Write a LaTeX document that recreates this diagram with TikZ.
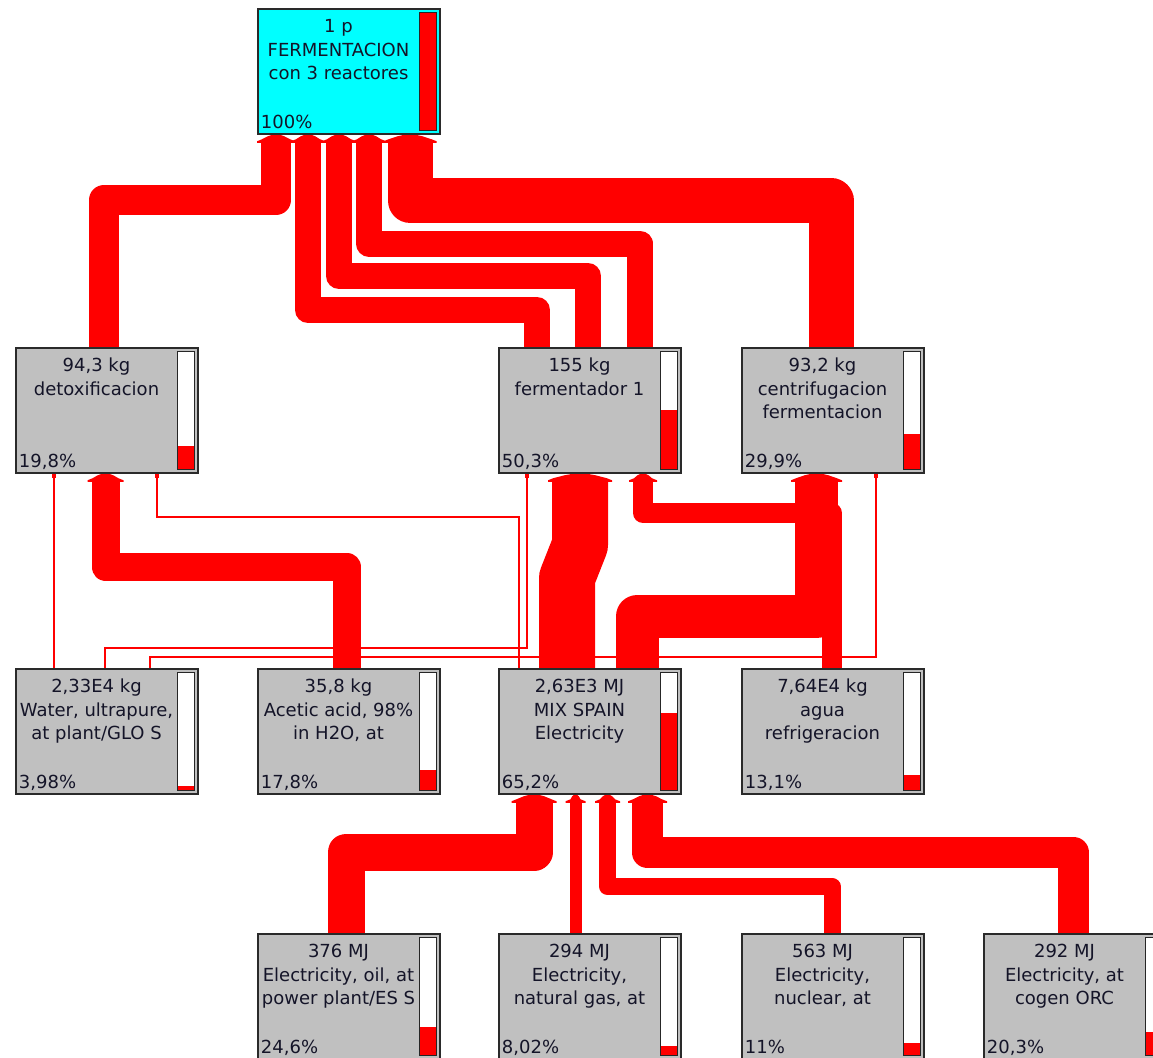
\documentclass[tikz,border=0pt]{standalone}
\usepackage{fontspec}
\setmainfont{DejaVu Sans}
\usetikzlibrary{calc,arrows.meta,backgrounds}
\definecolor{boxgray}{HTML}{C0C0C0}
\definecolor{boxcyan}{HTML}{00FFFF}
\definecolor{flow}{HTML}{FF0000}
\definecolor{edgec}{HTML}{2A2A2A}
\definecolor{txtc}{HTML}{141428}
\tikzset{
  procbox/.style={rectangle, draw=edgec, line width=1.6pt, minimum width=182.5pt,
    minimum height=125.5pt, inner sep=0pt, outer sep=0pt},
  barframe/.style={draw=black!85, line width=1.2pt},
  boxtext/.style={font=\fontsize{18}{20}\selectfont, text=txtc, inner sep=0pt},
  flowband/.style={draw=flow, line width=#1, line join=round, shorten >=7.5pt},
  thinflow/.style={draw=flow, line width=1.3pt, -{Rectangle[length=4.5pt,width=3.5pt]}}
}
% name, x, y, fill, fraction, percent text, lines
\newcommand\pbox[7]{%
  \node[procbox, fill=#4, anchor=north west] (#1) at (#2+0.75,#3+0.75) {};
  \coordinate (#1-bb) at ([xshift=-20.5pt,yshift=3.5pt]#1.south east);
  \coordinate (#1-bt) at ([xshift=-4pt,yshift=-3.5pt]#1.north east);
  \fill[white] (#1-bb) rectangle (#1-bt);
  \fill[flow] (#1-bb) rectangle ++(16.5,{-#5*118.5});
  \draw[barframe] (#1-bb) rectangle (#1-bt);
  \foreach \lbl [count=\i] in {#7}
    \node[boxtext, anchor=base] (#1-l\i) at ([xshift=-10.5pt,yshift={-23.75pt-(\i-1)*23.7pt}]#1.north) {\lbl};
  \node[boxtext, anchor=base west] (#1-pct) at ([xshift=3pt,yshift=6.25pt]#1.south west) {#6};
}
% target node, x, band width
\newcommand\flare[3]{%
  \fill[flow, shift={(#2,0 |- #1.south)}]
    ({-#3/2-4},8.5) -- ({-#3/2-4},7) -- ({-#3/2+1},5) -- ({-0.55*#3/2},2) -- ({-0.3*#3/2},0.75)
    -- ({0.3*#3/2},0.75) -- ({0.55*#3/2},2) -- ({#3/2-1},5) -- ({#3/2+4},7) -- ({#3/2+4},8.5) -- cycle;
}
\begin{document}
\begin{tikzpicture}[x=1pt,y=-1pt]
\useasboundingbox (0,0) rectangle (1153,1057);

\pbox{top}{257}{8}{boxcyan}{1}{100\%}{{1 p},{FERMENTACION},{con 3 reactores}}
\pbox{det}{15}{347}{boxgray}{0.198}{19,8\%}{{94,3 kg},{detoxificacion}}
\pbox{ferm}{498}{347}{boxgray}{0.503}{50,3\%}{{155 kg},{fermentador 1}}
\pbox{cen}{741}{347}{boxgray}{0.299}{29,9\%}{{93,2 kg},{centrifugacion},{fermentacion}}
\pbox{wat}{15}{668}{boxgray}{0.0398}{3,98\%}{{2,33E4 kg},{Water, ultrapure,},{at plant/GLO S}}
\pbox{ace}{257}{668}{boxgray}{0.178}{17,8\%}{{35,8 kg},{Acetic acid, 98\%},{in H2O, at}}
\pbox{mix}{498}{668}{boxgray}{0.652}{65,2\%}{{2,63E3 MJ},{MIX SPAIN},{Electricity}}
\pbox{agu}{741}{668}{boxgray}{0.131}{13,1\%}{{7,64E4 kg},{agua},{refrigeracion}}
\pbox{oil}{257}{933}{boxgray}{0.246}{24,6\%}{{376 MJ},{Electricity, oil, at},{power plant/ES S}}
\pbox{gas}{498}{933}{boxgray}{0.0802}{8,02\%}{{294 MJ},{Electricity,},{natural gas, at}}
\pbox{nuc}{741}{933}{boxgray}{0.11}{11\%}{{563 MJ},{Electricity,},{nuclear, at}}
\pbox{cog}{983}{933}{boxgray}{0.203}{20,3\%}{{292 MJ},{Electricity, at},{cogen ORC}}

\begin{scope}[on background layer]
  \fill[white] (0,0) rectangle (1153,1057);
  % into FERMENTACION
  \draw[flowband=30pt] (104,0 |- det.north) |- (276,200) -- (276,0 |- top.south);
  \draw[flowband=26pt] (537,0 |- ferm.north) |- (308,310) -- (308,0 |- top.south);
  \draw[flowband=26pt] (588,0 |- ferm.north) |- (339,276) -- (339,0 |- top.south);
  \draw[flowband=26pt] (640,0 |- ferm.north) |- (369,243.5) -- (369,0 |- top.south);
  \draw[flowband=45pt] (831,0 |- cen.north) |- (410,200.5) -- (410,0 |- top.south);
  % into detoxificacion
  \draw[flowband=28pt] (347,0 |- ace.north) |- (105.5,567) -- (105.5,0 |- det.south);
  \draw[thinflow] (54,0 |- wat.north) -- (54,0 |- det.south);
  \draw[thinflow] (519,0 |- mix.north) |- (157,517) -- (157,0 |- det.south);
  % into fermentador
  \draw[flowband=56pt] (567,0 |- mix.north) -- (567,578) -- (580,545) -- (580,0 |- ferm.south);
  \draw[flowband=20pt] (832,0 |- agu.north) |- (643,513) -- (643,0 |- ferm.south);
  \draw[thinflow] (105,0 |- wat.north) |- (527,648) -- (527,0 |- ferm.south);
  % into centrifugacion
  \draw[flowband=43pt] (637,0 |- mix.north) |- (816.5,616.5) -- (816.5,0 |- cen.south);
  \draw[thinflow] (150,0 |- wat.north) |- (876,657) -- (876,0 |- cen.south);
  % into MIX SPAIN
  \draw[flowband=37pt] (346,0 |- oil.north) |- (534,852) -- (534,0 |- mix.south);
  \draw[flowband=12pt] (575.5,0 |- gas.north) -- (575.5,0 |- mix.south);
  \draw[flowband=17pt] (832,0 |- nuc.north) |- (607.5,886.5) -- (607.5,0 |- mix.south);
  \draw[flowband=31pt] (1073.5,0 |- cog.north) |- (647.5,852.5) -- (647.5,0 |- mix.south);
  % flares
  \flare{top}{276}{30}
  \flare{top}{308}{26}
  \flare{top}{339}{26}
  \flare{top}{369}{26}
  \flare{top}{410}{45}
  \flare{det}{105.5}{28}
  \flare{ferm}{580}{56}
  \flare{ferm}{643}{20}
  \flare{cen}{816.5}{43}
  \flare{mix}{534}{37}
  \flare{mix}{575.5}{12}
  \flare{mix}{607.5}{17}
  \flare{mix}{647.5}{31}
\end{scope}
\end{tikzpicture}
\end{document}
